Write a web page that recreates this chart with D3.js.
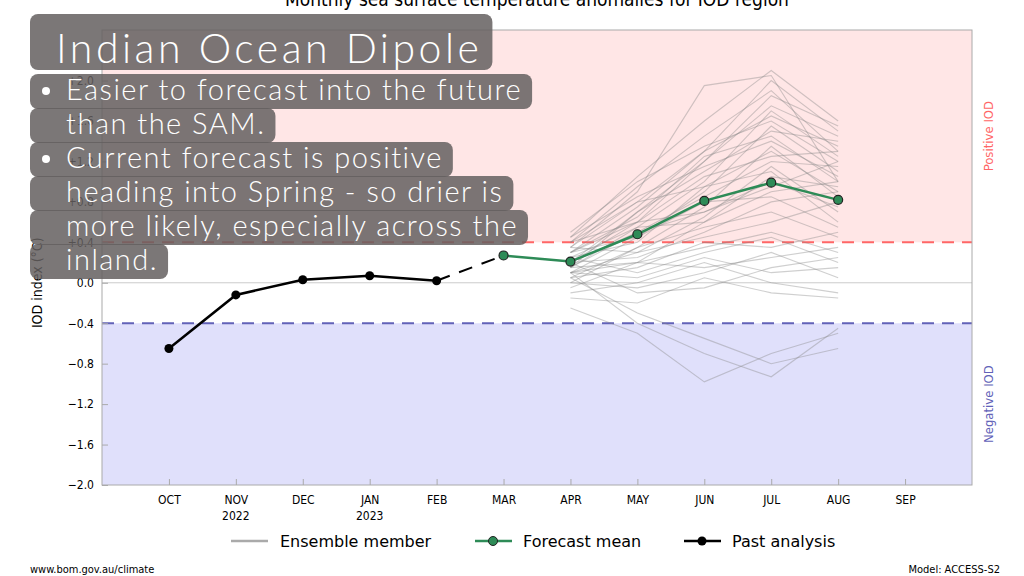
<!DOCTYPE html>
<html><head><meta charset="utf-8">
<script src="https://cdn.jsdelivr.net/npm/d3@7"></script>
<style>body{margin:0;background:#fff}svg{display:block}</style>
</head><body>
<script>
const width = 1024, height = 576;
const months = ['OCT','NOV','DEC','JAN','FEB','MAR','APR','MAY','JUN','JUL','AUG','SEP'];
const years = {1: '2022', 3: '2023'};
const yTicks = [-2.0,-1.6,-1.2,-0.8,-0.4,0.0,0.4,0.8,1.2,1.6,2.0];
const pastIdx = [0,1,2,3,4];
const pastVals = [-0.65,-0.12,0.03,0.07,0.02];
const meanIdx = [5,6,7,8,9,10];
const meanVals = [0.27,0.21,0.48,0.81,0.99,0.82];
const ensIdx = [6,7,8,9,10];
// ensemble members APR..AUG, read by eye
const ensemble = [
  [0.45,1.05,1.6,2.1,1.6],[0.35,0.9,1.95,2.05,1.0],[0.3,0.75,1.3,2.0,1.5],
  [0.4,0.95,1.45,1.9,1.3],[0.2,0.6,1.2,1.75,1.45],[0.5,1.0,1.35,1.6,1.2],
  [0.25,0.55,1.0,1.7,1.25],[0.15,0.7,1.1,1.5,1.4],[0.3,0.65,1.25,1.45,1.0],
  [0.1,0.45,0.9,1.55,1.1],[0.35,0.8,0.95,1.3,0.9],[0.2,0.5,0.85,1.2,1.15],
  [0.05,0.35,0.75,1.35,0.85],[0.4,0.6,0.7,1.0,0.75],[0.25,0.4,0.95,1.1,0.6],
  [0.15,0.55,0.6,0.9,1.0],[0.3,0.45,0.8,0.85,0.55],[0.1,0.3,0.65,1.15,0.7],
  [0.2,0.25,0.5,0.8,0.9],[0.0,0.35,0.55,0.7,0.45],[0.35,0.3,0.45,0.6,0.8],
  [0.15,0.2,0.35,0.5,0.3],[0.05,0.15,0.4,0.35,0.5],[0.25,0.1,0.3,0.45,0.2],
  [-0.05,0.2,0.15,0.25,0.35],[0.1,0.05,0.25,0.1,0.15],[0.0,-0.05,0.1,0.3,0.05],
  [-0.1,0.0,0.2,0.0,-0.1],[0.2,-0.1,-0.05,0.15,0.25],[-0.15,-0.2,0.05,-0.1,-0.15],
  [0.05,-0.3,-0.55,-0.8,-0.65],[-0.25,-0.5,-0.98,-0.7,-0.5],[0.1,-0.4,-0.7,-0.93,-0.45],
  [0.3,0.6,1.05,1.25,1.3],[0.45,0.85,1.15,1.4,1.05],[0.15,0.5,0.7,0.95,1.2],
  [0.4,0.8,1.3,1.65,1.35],[0.2,0.7,1.2,1.85,1.55],[0.1,0.2,0.6,1.05,0.95]
];

const x = d3.scaleLinear().domain([-1, 12]).range([102, 972]);
const y = d3.scaleLinear().domain([-2.0, 2.5]).range([485, 30]);
const font = 'DejaVu Sans Condensed, DejaVu Sans, sans-serif';

const svg = d3.select('body').append('svg').attr('width', width).attr('height', height)
  .style('font-family', font);

svg.append('text').attr('x', 537).attr('y', 6).attr('text-anchor', 'middle')
  .attr('font-size', 19).text('Monthly sea surface temperature anomalies for IOD region');

svg.append('rect').attr('x', x(-1)).attr('y', y(2.5)).attr('width', x(12) - x(-1))
  .attr('height', y(0.4) - y(2.5)).attr('fill', '#ffe6e6');
svg.append('rect').attr('x', x(-1)).attr('y', y(-0.4)).attr('width', x(12) - x(-1))
  .attr('height', y(-2.0) - y(-0.4)).attr('fill', '#e0e0fb');
svg.append('line').attr('x1', x(-1)).attr('x2', x(12)).attr('y1', y(0)).attr('y2', y(0))
  .attr('stroke', '#ccc');
svg.append('line').attr('x1', x(-1)).attr('x2', x(12)).attr('y1', y(0.4)).attr('y2', y(0.4))
  .attr('stroke', '#f66').attr('stroke-width', 2).attr('stroke-dasharray', '12,8');
svg.append('line').attr('x1', x(-1)).attr('x2', x(12)).attr('y1', y(-0.4)).attr('y2', y(-0.4))
  .attr('stroke', '#6262b8').attr('stroke-width', 2).attr('stroke-dasharray', '12,8');

const line = d3.line().x(d => x(d[0])).y(d => y(d[1]));
svg.append('g').selectAll('path').data(ensemble).join('path')
  .attr('d', d => line(d.map((v, i) => [ensIdx[i], v])))
  .attr('fill', 'none').attr('stroke', '#888').attr('stroke-opacity', 0.4).attr('stroke-width', 1.1);

svg.append('path').attr('d', line([[pastIdx[4], pastVals[4]], [meanIdx[0], meanVals[0]]]))
  .attr('fill', 'none').attr('stroke', '#000').attr('stroke-width', 2).attr('stroke-dasharray', '14,10');
const past = pastIdx.map((v, i) => [v, pastVals[i]]);
svg.append('path').attr('d', line(past)).attr('fill', 'none').attr('stroke', '#000').attr('stroke-width', 2.5);
svg.append('g').selectAll('circle').data(past).join('circle')
  .attr('cx', d => x(d[0])).attr('cy', d => y(d[1])).attr('r', 4.5).attr('fill', '#000');
const mean = meanIdx.map((v, i) => [v, meanVals[i]]);
svg.append('path').attr('d', line(mean)).attr('fill', 'none').attr('stroke', '#2e8b57').attr('stroke-width', 2.5);
svg.append('g').selectAll('circle').data(mean).join('circle')
  .attr('cx', d => x(d[0])).attr('cy', d => y(d[1])).attr('r', 4.5)
  .attr('fill', '#2e8b57').attr('stroke', '#222').attr('stroke-width', 1.2);

// frame
svg.append('rect').attr('x', x(-1)).attr('y', y(2.5)).attr('width', x(12) - x(-1))
  .attr('height', y(-2) - y(2.5)).attr('fill', 'none').attr('stroke', '#aaa');

const yAxis = svg.append('g').attr('transform', `translate(${x(-1)},0)`)
  .call(d3.axisLeft(y).tickValues(yTicks).tickSize(-6).tickPadding(8)
    .tickFormat(d => d > 0 ? '+' + d.toFixed(1) : (d < 0 ? '\u2212' + Math.abs(d).toFixed(1) : d.toFixed(1))));
yAxis.select('.domain').remove();
yAxis.selectAll('line').attr('stroke', '#aaa');
yAxis.selectAll('text').attr('font-size', 12).attr('font-family', font);

const xAxis = svg.append('g').attr('transform', `translate(0,${y(-2)})`)
  .call(d3.axisBottom(x).tickValues(d3.range(12)).tickSize(-6).tickPadding(10).tickFormat(i => months[i]));
xAxis.select('.domain').remove();
xAxis.selectAll('line').attr('stroke', '#aaa');
xAxis.selectAll('text').attr('font-size', 12).attr('font-family', font);
svg.append('g').selectAll('text').data(Object.entries(years)).join('text')
  .attr('x', d => x(+d[0])).attr('y', y(-2) + 35).attr('text-anchor', 'middle')
  .attr('font-size', 12).text(d => d[1]);

svg.append('text').attr('transform', `translate(42,${y(0)}) rotate(-90)`).attr('text-anchor', 'middle')
  .attr('font-size', 14).text('IOD index (\u00b0C)');
svg.append('text').attr('transform', `translate(993,${y(1.45)}) rotate(-90)`).attr('text-anchor', 'middle')
  .attr('font-size', 13).attr('fill', '#f66').text('Positive IOD');
svg.append('text').attr('transform', `translate(993,${y(-1.2)}) rotate(-90)`).attr('text-anchor', 'middle')
  .attr('font-size', 13).attr('fill', '#6262b8').text('Negative IOD');

// legend
const lg = svg.append('g').attr('transform', 'translate(0,541)').attr('font-size', 16)
  .attr('font-family', 'DejaVu Sans, sans-serif');
lg.append('line').attr('x1', 231).attr('x2', 268).attr('stroke', '#aaa').attr('stroke-width', 2.5);
lg.append('text').attr('x', 280).attr('y', 6).text('Ensemble member');
lg.append('line').attr('x1', 475).attr('x2', 512).attr('stroke', '#2e8b57').attr('stroke-width', 2.5);
lg.append('circle').attr('cx', 493).attr('r', 4.5).attr('fill', '#2e8b57').attr('stroke', '#222');
lg.append('text').attr('x', 523).attr('y', 6).text('Forecast mean');
lg.append('line').attr('x1', 684).attr('x2', 721).attr('stroke', '#000').attr('stroke-width', 2.5);
lg.append('circle').attr('cx', 702).attr('r', 4.5).attr('fill', '#000');
lg.append('text').attr('x', 732).attr('y', 6).text('Past analysis');

svg.append('text').attr('x', 30).attr('y', 573).attr('font-size', 11).text('www.bom.gov.au/climate');
svg.append('text').attr('x', 1000).attr('y', 573).attr('text-anchor', 'end').attr('font-size', 11).text('Model: ACCESS-S2');

// overlay text box
const overlay = [
  {t: 'Indian Ocean Dipole', x: 56, y: 63, s: 41, ls: 3.5, bullet: false},
  {t: 'Easier to forecast into the future', x: 66, y: 100, s: 29, ls: 1.5, bullet: true},
  {t: 'than the SAM.', x: 66, y: 134, s: 29, ls: 1.5, bullet: false},
  {t: 'Current forecast is positive', x: 66, y: 168, s: 29, ls: 1.5, bullet: true},
  {t: 'heading into Spring - so drier is', x: 66, y: 202, s: 29, ls: 1.5, bullet: false},
  {t: 'more likely, especially across the', x: 66, y: 236, s: 29, ls: 1.5, bullet: false},
  {t: 'inland.', x: 66, y: 270, s: 29, ls: 1.5, bullet: false}
];
const og = svg.append('g').attr('font-family', 'Lato, sans-serif').attr('font-weight', 300);
const bg = og.append('g'), tg = og.append('g');
overlay.forEach((d, i) => {
  const t = tg.append('text').attr('x', d.x).attr('y', d.y).attr('font-size', d.s)
    .attr('letter-spacing', d.ls).attr('fill', '#fff').text(d.t);
  const w = t.node().getComputedTextLength();
  const top = i === 0 ? 14 : d.y - 26;
  bg.append('rect').attr('x', 30).attr('y', top).attr('width', d.x + w + 10 - 30)
    .attr('height', i === 0 ? 56 : 35).attr('rx', 8).attr('fill', 'rgb(100,95,95)').attr('fill-opacity', 0.85);
  if (d.bullet) tg.append('circle').attr('cx', 46).attr('cy', d.y - 9).attr('r', 4).attr('fill', '#fff');
});
</script>
</body></html>
